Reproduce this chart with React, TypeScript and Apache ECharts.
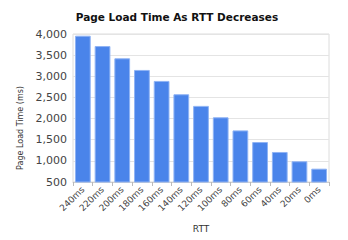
import React, { useEffect, useRef } from "react";
import * as echarts from "echarts";

const categories = ["240ms", "220ms", "200ms", "180ms", "160ms", "140ms", "120ms", "100ms", "80ms", "60ms", "40ms", "20ms", "0ms"];
const loadTimes = [3960, 3715, 3425, 3150, 2890, 2575, 2300, 2030, 1720, 1445, 1210, 990, 815];
const titleText = "Page Load Time As RTT Decreases";
const xAxisName = "RTT";
const yAxisName = "Page Load Time (ms)";

export default function App() {
  const ref = useRef<HTMLDivElement>(null);
  useEffect(() => {
    if (!ref.current) return;
    const chart = echarts.init(ref.current, undefined, { renderer: "svg" });
    chart.setOption({
      animation: false,
      backgroundColor: "#ffffff",
      textStyle: { fontFamily: "DejaVu Sans" },
      title: {
        text: titleText,
        left: 172,
        textAlign: "center",
        top: 6,
        textStyle: { fontSize: 10.5, fontWeight: "bold", color: "#111", fontFamily: "DejaVu Sans" },
      },
      grid: {
        left: 73,
        right: 19,
        top: 34,
        bottom: 58,
        show: true,
        borderColor: "#dcdcdc",
        borderWidth: 1,
      },
      xAxis: {
        type: "category",
        data: categories,
        name: xAxisName,
        nameLocation: "middle",
        nameGap: 42,
        nameTextStyle: { fontSize: 9, color: "#333" },
        axisLine: { lineStyle: { color: "#cfcfcf" } },
        axisTick: { show: true, length: 4, lineStyle: { color: "#bbb" } },
        axisLabel: { rotate: 45, fontSize: 9, color: "#444", margin: 6 },
      },
      yAxis: {
        type: "value",
        min: 500,
        max: 4000,
        interval: 500,
        name: yAxisName,
        nameLocation: "middle",
        nameGap: 46,
        nameTextStyle: { fontSize: 8, color: "#333", padding: [0, 40, 0, 0] },
        axisLine: { show: false },
        axisTick: { show: false },
        splitLine: { lineStyle: { color: "#e4e4e4" } },
        axisLabel: {
          fontSize: 11,
          color: "#444",
          margin: 6,
          formatter: (v: number) => v.toLocaleString("en-US"),
        },
      },
      series: [
        {
          type: "bar",
          data: loadTimes,
          barCategoryGap: "20%",
          itemStyle: { color: "#4a84ea", borderColor: "#8fb3f4", borderWidth: 1 },
        },
      ],
    });
    return () => chart.dispose();
  }, []);
  return <div ref={ref} style={{ width: 348, height: 240, position: "absolute", left: 0, top: 0 }} />;
}
